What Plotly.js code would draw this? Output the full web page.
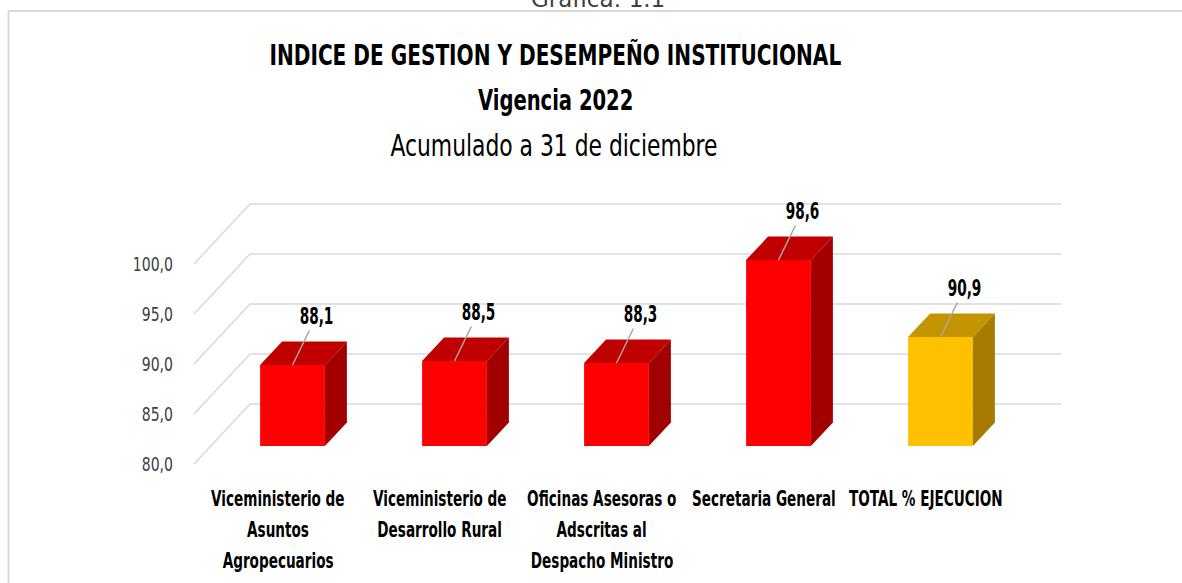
<!DOCTYPE html>
<html>
<head>
<meta charset="utf-8">
<script src="https://cdn.plot.ly/plotly-3.0.1.min.js"></script>
<style>
  html, body { margin: 0; padding: 0; background: #ffffff; }
  #chart { width: 1182px; height: 583px; }
</style>
</head>
<body>
<div id="chart"></div>
<script>
// ---------------- DATA ----------------
const categories = [
  ["Viceministerio de", "Asuntos", "Agropecuarios"],
  ["Viceministerio de", "Desarrollo Rural"],
  ["Oficinas Asesoras o", "Adscritas al", "Despacho Ministro"],
  ["Secretaria General"],
  ["TOTAL % EJECUCION"]
];
const values = [88.1, 88.5, 88.3, 98.6, 90.9];
const yTicks = [80, 85, 90, 95, 100];
const yTickLabels = ["80,0", "85,0", "90,0", "95,0", "100,0"];
const titleLine1 = "INDICE DE GESTION Y DESEMPEÑO INSTITUCIONAL";
const titleLine2 = "Vigencia 2022";
const titleLine3 = "Acumulado a 31 de diciembre";
const caption = "Gráfica: 1.1";

// ---------------- STYLE / GEOMETRY ----------------
const W = 1182, H = 583;
const PL = 180, PR = 1100, PT = 190, PB = 470;   // plot area in px
const SLOT = 162;          // px per category
const X0PX = 292.5;        // px of first category centre (bar front plane)
const Y80PX = 446;         // px of base value in bar front plane
const PXPERUNIT = 10;      // px per y unit
const BASE = 80;
const HALF = 0.2;          // half bar width (category units)
const DX = 22 / SLOT;      // depth offset x (category units)
const DY = 2.35;           // depth offset y (value units)
const GRID_BACK_DY = 4.2;  // back wall gridline offset (value units)
const GRID_FRONT_DY = -1.8;// front floor edge offset (value units)
const GRID_BACK_X0 = (250 - X0PX) / SLOT;
const GRID_BACK_X1 = (1061 - X0PX) / SLOT;
const GRID_FRONT_X = (194 - X0PX) / SLOT;
const GRID_COLOR = "#d9d9d9";

const NARROW = "'Liberation Sans Narrow', 'Arial Narrow', 'DejaVu Sans Condensed', sans-serif";
const TICK_SQUEEZE = 0.78;

const colorsFor = (i) => {
  const isTotal = categories[i][0].indexOf("TOTAL") === 0;
  return isTotal
    ? { front: "#ffc000", top: "#c49400", side: "#a67c00" }
    : { front: "#ff0000", top: "#c00000", side: "#a20000" };
};

const px = (x) => (x - PL) / (PR - PL);
const py = (y) => (PB - y) / (PB - PT);

const xRange = [(PL - X0PX) / SLOT, (PR - X0PX) / SLOT];
const yRange = [BASE - (PB - Y80PX) / PXPERUNIT, BASE + (Y80PX - PT) / PXPERUNIT];

const idx = values.map((_, i) => i);

// ---------------- TRACES ----------------
const traces = [];
traces.push({
  type: "bar",
  x: idx,
  y: values.map(v => v - BASE),
  base: BASE,
  width: 2 * HALF,
  marker: { color: idx.map(i => colorsFor(i).front), line: { width: 0 } },
  hoverinfo: "skip",
  showlegend: false
});
idx.forEach(i => {
  const v = values[i];
  const c = colorsFor(i);
  traces.push({
    type: "scatter", mode: "none", fill: "toself", fillcolor: c.top,
    x: [i - HALF, i + HALF, i + HALF + DX, i - HALF + DX, i - HALF],
    y: [v, v, v + DY, v + DY, v],
    hoverinfo: "skip", showlegend: false
  });
  traces.push({
    type: "scatter", mode: "none", fill: "toself", fillcolor: c.side,
    x: [i + HALF, i + HALF + DX, i + HALF + DX, i + HALF, i + HALF],
    y: [BASE, BASE + DY, v + DY, v, BASE],
    hoverinfo: "skip", showlegend: false
  });
});

// ---------------- SHAPES ----------------
const shapes = [];
yTicks.forEach(t => {
  shapes.push({
    type: "line", xref: "x", yref: "y", layer: "below",
    x0: GRID_BACK_X0, x1: GRID_BACK_X1, y0: t + GRID_BACK_DY, y1: t + GRID_BACK_DY,
    line: { color: GRID_COLOR, width: 1.5 }
  });
  shapes.push({
    type: "line", xref: "x", yref: "y", layer: "below",
    x0: GRID_FRONT_X, x1: GRID_BACK_X0, y0: t + GRID_FRONT_DY, y1: t + GRID_BACK_DY,
    line: { color: GRID_COLOR, width: 1.5 }
  });
});
shapes.push({
  type: "line", xref: "paper", yref: "paper",
  x0: px(8.5), x1: px(8.5), y0: py(11), y1: py(H + 5),
  line: { color: "#d9d9d9", width: 2 }
});
shapes.push({
  type: "line", xref: "paper", yref: "paper",
  x0: px(8.5), x1: px(W + 5), y0: py(11), y1: py(11),
  line: { color: "#d9d9d9", width: 2 }
});

// ---------------- ANNOTATIONS ----------------
const annotations = [];
const annSqueeze = [];
function addAnn(a, squeeze) { annotations.push(a); annSqueeze.push(squeeze); }

addAnn({
  xref: "paper", yref: "paper", x: px(598), y: py(-1), xanchor: "center", yanchor: "middle",
  text: caption, showarrow: false,
  font: { family: "'DejaVu Sans', sans-serif", size: 23, color: "#404040" }
}, 1);
addAnn({
  xref: "paper", yref: "paper", x: px(555), y: py(55), xanchor: "center", yanchor: "middle",
  text: titleLine1, showarrow: false,
  font: { family: NARROW, size: 29, color: "#000000", weight: 700 }
}, 0.77);
addAnn({
  xref: "paper", yref: "paper", x: px(555), y: py(100), xanchor: "center", yanchor: "middle",
  text: titleLine2, showarrow: false,
  font: { family: NARROW, size: 29, color: "#000000", weight: 700 }
}, 0.75);
addAnn({
  xref: "paper", yref: "paper", x: px(554), y: py(146), xanchor: "center", yanchor: "middle",
  text: titleLine3, showarrow: false,
  font: { family: NARROW, size: 30, color: "#000000" }
}, 0.81);
categories.forEach((lines, i) => {
  lines.forEach((ln, k) => {
    addAnn({
      xref: "x", yref: "paper", x: i - 0.09, y: py(499 + 31 * k),
      xanchor: "center", yanchor: "middle", text: ln, showarrow: false,
      font: { family: NARROW, size: 21, color: "#000000", weight: 700 }
    }, 0.72);
  });
});
values.forEach((v, i) => {
  addAnn({
    xref: "x", yref: "y", x: i, y: v,
    text: v.toFixed(1).replace(".", ","),
    showarrow: true, arrowhead: 0, arrowwidth: 1.5, arrowcolor: "#a6a6a6",
    ax: 24, ay: -49, standoff: 0,
    font: { family: NARROW, size: 23, color: "#000000", weight: 700 }
  }, 0.66);
});

// ---------------- LAYOUT ----------------
const layout = {
  width: W, height: H,
  margin: { l: PL, r: W - PR, t: PT, b: H - PB, pad: 0 },
  paper_bgcolor: "#ffffff", plot_bgcolor: "rgba(0,0,0,0)",
  showlegend: false,
  xaxis: {
    range: xRange, showgrid: false, zeroline: false, showline: false,
    showticklabels: false, ticks: "", fixedrange: true
  },
  yaxis: {
    range: yRange, showgrid: false, zeroline: false, showline: false,
    tickmode: "array",
    tickvals: yTicks.map(t => t + GRID_FRONT_DY),
    ticktext: yTickLabels,
    ticks: "", ticklabelstandoff: 6,
    tickfont: { family: NARROW, size: 20, color: "#404040" },
    fixedrange: true
  },
  shapes: shapes,
  annotations: annotations
};

// horizontally condense a text element around its anchor (emulates a condensed face)
function squeeze(el, s) {
  if (!el || s === 1) return;
  const bb = el.getBBox();
  const anchor = el.getAttribute("text-anchor") || "start";
  let cx = bb.x + bb.width / 2;
  if (anchor === "end") cx = bb.x + bb.width;
  else if (anchor === "start") cx = bb.x;
  const prev = el.getAttribute("transform");
  const add = `translate(${cx},0) scale(${s},1) translate(${-cx},0)`;
  el.setAttribute("transform", (prev ? prev + " " : "") + add);
}

Plotly.newPlot("chart", traces, layout, { displayModeBar: false, staticPlot: true }).then(gd => {
  gd.querySelectorAll(".ytick text").forEach(t => squeeze(t, TICK_SQUEEZE));
  gd.querySelectorAll("g.annotation").forEach(g => {
    const i = +g.getAttribute("data-index");
    squeeze(g.querySelector("text.annotation-text"), annSqueeze[i]);
  });
});
</script>
</body>
</html>
